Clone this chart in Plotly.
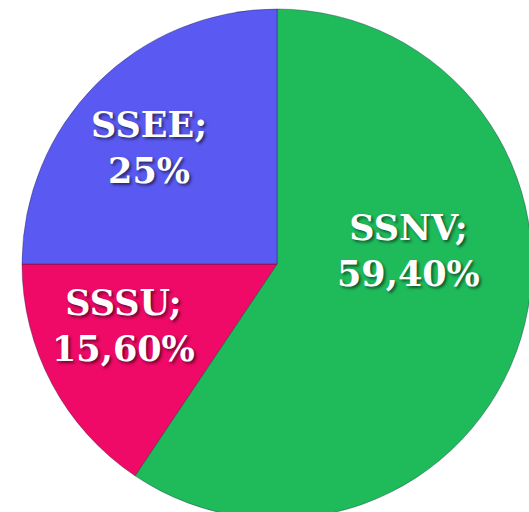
import plotly.graph_objects as go

labels = ["SSNV", "SSSU", "SSEE"]
values = [59.4, 15.6, 25.0]
value_text = ["59,40%", "15,60%", "25%"]
colors = ["#1fbb5b", "#ee0a66", "#5a5af2"]

# label anchor positions in pixels (layout only)
label_pos = [(408, 250), (123, 325), (149, 147)]

W, H = 540, 530
cx, cy, r = 277, 264, 255

fig = go.Figure(go.Pie(
    labels=labels,
    values=values,
    textinfo="none",
    sort=False,
    direction="clockwise",
    rotation=0,
    marker=dict(colors=colors, line=dict(color="rgba(20,20,60,0.35)", width=1)),
    hoverinfo="none",
    showlegend=False,
    domain=dict(x=[(cx - r) / W, (cx + r) / W], y=[1 - (cy + r) / H, 1 - (cy - r) / H]),
))

for lab, txt, (px, py) in zip(labels, value_text, label_pos):
    fig.add_annotation(
        x=px / W, y=1 - py / H, xref="paper", yref="paper",
        text=f"{lab};<br>{txt}", showarrow=False,
        xanchor="center", yanchor="middle",
        font=dict(family="DejaVu Serif, serif", size=35,
                  color="white", weight="bold",
                  shadow="2px 2px 3px rgba(0,0,0,0.55)"),
    )

fig.update_layout(
    width=W, height=H,
    margin=dict(l=0, r=0, t=0, b=0),
    paper_bgcolor="white",
    plot_bgcolor="white",
)

fig.write_html(
    "out.html",
    config={"displayModeBar": False},
    post_script="document.body.style.margin='0';document.body.style.overflow='hidden';document.documentElement.style.overflow='hidden';",
)
